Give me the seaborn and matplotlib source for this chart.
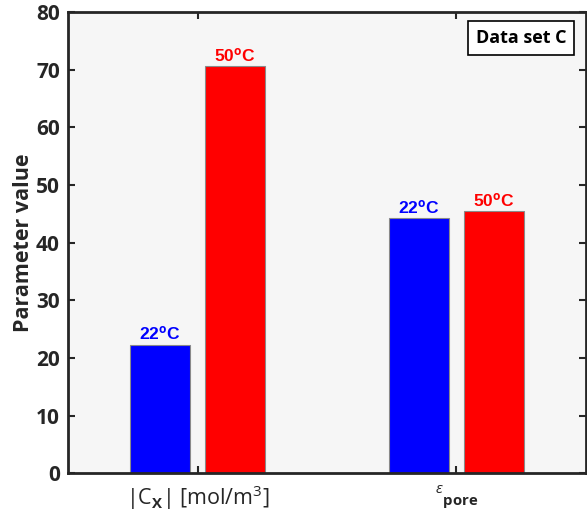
import matplotlib
matplotlib.use("Agg")
import matplotlib.pyplot as plt
import seaborn as sns
import pandas as pd

# Parameter estimates for data set C at two temperatures
parameters = ["|C$_\\mathbf{X}$| [mol/m$^\\mathregular{3}$]", "$^\\epsilon$$_\\mathbf{pore}$"]
temperatures = ["22", "50"]
values_22 = [22.3, 44.2]
values_50 = [70.6, 45.4]
temp_labels = ["22$^\\mathbf{o}$C", "50$^\\mathbf{o}$C"]
colors = ["#0000ff", "#ff0000"]

df = pd.DataFrame({
    "parameter": parameters * 2,
    "temperature": [temperatures[0]] * 2 + [temperatures[1]] * 2,
    "value": values_22 + values_50,
})

sns.set_theme(style="white")
plt.rcParams["font.family"] = ["Open Sans", "DejaVu Sans"]
plt.rcParams["mathtext.fontset"] = "custom"
plt.rcParams["mathtext.rm"] = "Open Sans"
plt.rcParams["mathtext.bf"] = "Open Sans:bold"
plt.rcParams["mathtext.it"] = "Open Sans:italic"

fig = plt.figure(figsize=(5.87, 5.2), dpi=100)
ax = fig.add_axes([0.116, 0.090, 0.882, 0.887])
ax.set_facecolor("#f6f6f6")

sns.barplot(data=df, x="parameter", y="value", hue="temperature",
            hue_order=temperatures, order=parameters,
            palette=dict(zip(temperatures, colors)),
            width=0.58, gap=0.2, saturation=1, edgecolor="#8a8a8a",
            linewidth=0.8, legend=False, ax=ax)

# temperature tags above each bar, in a Helvetica-like bold face
for cont, lab, col in zip(ax.containers, temp_labels, colors):
    texts = ax.bar_label(cont, labels=[lab] * len(cont), color=col,
                         fontsize=12.5, padding=1)
    for t in texts:
        t.set_fontfamily(["Liberation Sans", "DejaVu Sans"])
        t.set_fontweight("bold")

ax.set_xlim(-0.5, 1.5)
ax.set_ylim(0, 80)
ax.set_yticks(range(0, 81, 10))
ax.set_xlabel("")
ax.set_ylabel("Parameter value", fontsize=15.5, fontweight="bold", labelpad=1,
              color="#262626")
ax.tick_params(axis="y", labelsize=15, direction="in", length=5, width=1.5,
               right=True, left=True, pad=6, labelcolor="#262626")
ax.tick_params(axis="x", labelsize=15.5, direction="in", length=5, width=1.5,
               top=True, bottom=True, pad=7, labelcolor="#262626")
for t in ax.get_yticklabels():
    t.set_fontweight("bold")
for t in ax.get_xticklabels():
    t.set_fontweight("medium")

for s in ax.spines.values():
    s.set_visible(True)
    s.set_linewidth(2)
    s.set_color("#262626")

ax.text(0.962, 0.944, "Data set C", transform=ax.transAxes, ha="right", va="center",
        fontsize=13, fontweight="bold", color="black",
        bbox=dict(boxstyle="square,pad=0.45", facecolor="white", edgecolor="black", linewidth=1.2))

fig.savefig("out.png", dpi=100)
